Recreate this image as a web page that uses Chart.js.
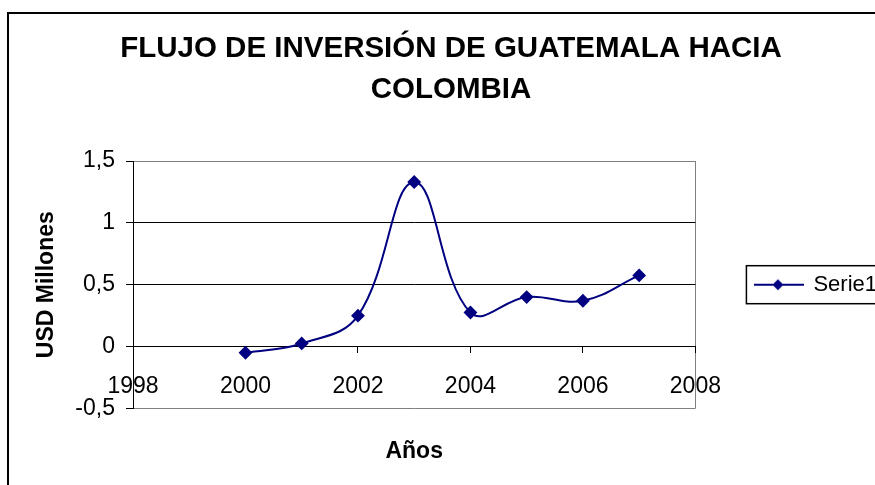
<!DOCTYPE html>
<html>
<head>
<meta charset="utf-8">
<script src="https://cdn.jsdelivr.net/npm/chart.js@4.4.0/dist/chart.umd.min.js"></script>
<style>
  html, body { margin: 0; padding: 0; background: #fff; overflow: hidden; }
  #frame {
    position: absolute; left: 7px; top: 12px;
    width: 884px; height: 480px;
    border: 2px solid #000;
  }
  canvas { display: block; }
</style>
</head>
<body>
<div id="frame"><canvas id="js-flujo" width="884" height="480"></canvas></div>
<script>
var titleLines  = ['FLUJO DE INVERSIÓN DE GUATEMALA HACIA', 'COLOMBIA']
var seriesLabel = 'Serie1'
var years       = [2000, 2001, 2002, 2003, 2004, 2005, 2006, 2007]
var flows       = [-0.05, 0.025, 0.25, 1.33, 0.275, 0.40, 0.37, 0.575]
var xTickLabels = ['1998', '2000', '2002', '2004', '2006', '2008']
var yTickLabels = ['-0,5', '0', '0,5', '1', '1,5']

var FONT  = "'Liberation Sans', Arial, sans-serif"
var NAVY  = '#000080'
var FRAME = '#808080'

// legend sample: line with diamond, like the Excel legend key
function legendKey() {
  var c = document.createElement('canvas')
  c.width = 50
  c.height = 14
  var ctx = c.getContext('2d')
  ctx.strokeStyle = NAVY
  ctx.lineWidth = 2
  ctx.beginPath()
  ctx.moveTo(0, 7)
  ctx.lineTo(50, 7)
  ctx.stroke()
  ctx.fillStyle = NAVY
  ctx.beginPath()
  ctx.moveTo(24, 1.5)
  ctx.lineTo(29.5, 7)
  ctx.lineTo(24, 12.5)
  ctx.lineTo(18.5, 7)
  ctx.closePath()
  ctx.fill()
  return c
}

var legendBox = {
  id: 'legendBox'
, afterDraw: function(chart) {
    var hb = chart.legend && chart.legend.legendHitBoxes[0]
    if (!hb) return
    var ctx = chart.ctx
    ctx.save()
    ctx.strokeStyle = '#000'
    ctx.lineWidth = 1.5
    ctx.strokeRect(hb.left - 9, hb.top - 8, hb.width + 40, hb.height + 16)
    ctx.restore()
  }
}

var points = years.map(function(y, i) { return {x: y, y: flows[i]} })

new Chart(document.getElementById('js-flujo'), {
  type: 'line'
, data: {
    datasets: [{
      label: seriesLabel
    , data: points
    , borderColor: NAVY
    , backgroundColor: NAVY
    , borderWidth: 2
    , tension: 0.4
    , fill: false
    , pointStyle: 'rectRot'
    , pointRadius: 5.5
    , pointBackgroundColor: NAVY
    , pointBorderColor: NAVY
    }]
  }
, options: {
    responsive: false
  , devicePixelRatio: 1
  , animation: false
  , layout: { padding: { left: 6, right: 6, top: 0, bottom: 0 } }
  , scales: {
      x: {
        type: 'linear'
      , position: { y: 0 }
      , min: 1998
      , max: 2008
      , ticks: {
          stepSize: 2
        , padding: 20
        , color: '#000'
        , font: { family: FONT, size: 23 }
        , callback: function(v, i) { return xTickLabels[i] }
        }
      , grid: {
          color: function(c) { return c.tick && c.tick.value === 2008 ? FRAME : 'rgba(0,0,0,0)' }
        , tickColor: '#000'
        , tickLength: 6
        , lineWidth: 1
        }
      , border: { display: true, color: '#000', width: 1 }
      }
    , y: {
        position: 'left'
      , min: -0.5
      , max: 1.5
      , afterFit: function(s) { s.width = 118 }
      , ticks: {
          stepSize: 0.5
        , padding: 11
        , color: '#000'
        , font: { family: FONT, size: 23 }
        , callback: function(v, i) { return yTickLabels[i] }
        }
      , grid: {
          color: function(c) {
            var v = c.tick && c.tick.value
            return (v === 1.5 || v === -0.5) ? FRAME : '#000'
          }
        , tickColor: '#000'
        , tickLength: 7
        , lineWidth: 1
        }
      , border: { display: true, color: '#000', width: 1 }
      , title: {
          display: true
        , text: 'USD Millones'
        , color: '#000'
        , font: { family: FONT, size: 23, weight: 'bold' }
        , padding: { top: 18, bottom: 0 }
        }
      }
    }
  , plugins: {
      title: {
        display: true
      , text: titleLines
      , color: '#000'
      , font: { family: FONT, size: 29.5, weight: 'bold', lineHeight: 41 / 29.5 }
      , padding: { top: 14, bottom: 51 }
      }
    , subtitle: {
        display: true
      , position: 'bottom'
      , fullSize: false
      , text: 'Años'
      , color: '#000'
      , font: { family: FONT, size: 23, weight: 'bold', lineHeight: 1.2 }
      , padding: { top: 29, bottom: 29 }
      }
    , legend: {
        position: 'right'
      , fullSize: false
      , labels: {
          usePointStyle: true
        , pointStyle: legendKey()
        , pointStyleWidth: 47
        , padding: 60
        , color: '#000'
        , font: { family: FONT, size: 22 }
        }
      }
    , tooltip: { enabled: false }
    }
  }
, plugins: [legendBox]
})
</script>
</body>
</html>
